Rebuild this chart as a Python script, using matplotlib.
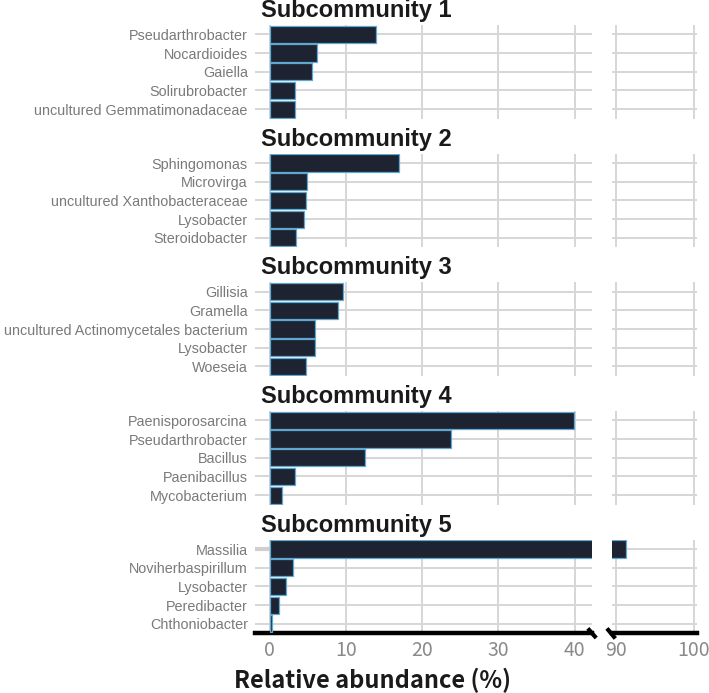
import numpy as np
import matplotlib
matplotlib.use("Agg")
import matplotlib.pyplot as plt

# data
groups = ["Subcommunity 1", "Subcommunity 2", "Subcommunity 3",
          "Subcommunity 4", "Subcommunity 5"]

genera = [
    ["Pseudarthrobacter", "Nocardioides", "Gaiella", "Solirubrobacter",
     "uncultured Gemmatimonadaceae"],
    ["Sphingomonas", "Microvirga", "uncultured Xanthobacteraceae",
     "Lysobacter", "Steroidobacter"],
    ["Gillisia", "Gramella", "uncultured Actinomycetales bacterium",
     "Lysobacter", "Woeseia"],
    ["Paenisporosarcina", "Pseudarthrobacter", "Bacillus", "Paenibacillus",
     "Mycobacterium"],
    ["Massilia", "Noviherbaspirillum", "Lysobacter", "Peredibacter",
     "Chthoniobacter"],
]

abundance = [
    [13.9, 6.2, 5.5, 3.3, 3.3],
    [16.9, 4.85, 4.8, 4.5, 3.5],
    [9.6, 9.0, 5.9, 5.9, 4.7],
    [39.9, 23.8, 12.5, 3.3, 1.65],
    [91.3, 3.1, 2.1, 1.2, 0.25],
]

left_ticks = [0, 10, 20, 30, 40]
right_ticks = [90, 100]

bar_face = "#1e2331"
bar_edge = "#5fa8d3"
grid_col = "#d6d6d6"
label_col = "#7a7a7a"

W, H = 709, 693
fig = plt.figure(figsize=(W / 100, H / 100), dpi=100)


def px_axes(l, t, r, b):
    return fig.add_axes([l / W, 1 - b / H, (r - l) / W, (b - t) / H])


tops = [25, 153.7, 282.3, 411, 539.7]
panel_h = 93.5

for i, (title, names, vals) in enumerate(zip(groups, genera, abundance)):
    top = tops[i]
    axL = px_axes(254.7, top, 592, top + panel_h)
    axR = px_axes(612, top, 697, top + panel_h)
    y = np.arange(len(names))
    for ax, lim, ticks in [(axL, (-1.97, 42.27), left_ticks),
                           (axR, (89.5, 100.4), right_ticks)]:
        ax.barh(y, vals, height=0.92, color=bar_face, edgecolor=bar_edge,
                linewidth=0.9, zorder=3)
        ax.set_xlim(*lim)
        ax.set_ylim(len(names) - 0.5, -0.5)
        ax.set_xticks(ticks)
        ax.set_yticks(y)
        ax.grid(True, color=grid_col, linewidth=1.4, zorder=0)
        ax.set_axisbelow(True)
        for s in ax.spines.values():
            s.set_visible(False)
        ax.tick_params(length=0)
        ax.set_facecolor("none")
        if i < len(groups) - 1:
            ax.set_xticklabels([])
        else:
            ax.spines["bottom"].set_visible(True)
            ax.spines["bottom"].set_linewidth(3.2)
            ax.spines["bottom"].set_color("black")
            ax.tick_params(axis="x", pad=5, labelsize=14, labelcolor="#8a8a8a")
            for t in ax.get_xticklabels():
                t.set_family(["Noto Sans CJK SC", "DejaVu Sans"])
                t.set_weight("light")
    axL.set_yticklabels(names, family="Liberation Sans", fontsize=10.4,
                        color=label_col)
    axL.tick_params(axis="y", pad=5)
    axR.set_yticklabels([])
    fig.text(261 / W, 1 - (top - 8) / H, title, family="Liberation Sans",
             weight="bold", fontsize=17, color="#1a1a1a", va="baseline")

    if i == len(groups) - 1:
        # light stub left of the top bar, as in the reference
        axL.plot([-1.97, 0], [0, 0], color="#cfcfcf", lw=3, zorder=1,
                 solid_capstyle="butt")
        # axis break marks
        dx, dy = 4.2 / 337, 4.8 / panel_h
        axL.plot([1 - dx, 1 + dx], [dy, -dy], transform=axL.transAxes,
                 color="black", lw=3, clip_on=False, solid_capstyle="butt")
        dx2 = 4.2 / 85
        axR.plot([-dx2 - 0.01, dx2 - 0.01], [dy, -dy * 1.1],
                 transform=axR.transAxes, color="black", lw=3,
                 clip_on=False, solid_capstyle="butt")

fig.text(373 / W, 1 - 688 / H, "Relative abundance (%)",
         family=["Noto Sans CJK SC", "DejaVu Sans"], weight="bold",
         fontsize=17, color="#1a1a1a", ha="center", va="baseline")

fig.savefig("out.png", dpi=100, facecolor="white")
